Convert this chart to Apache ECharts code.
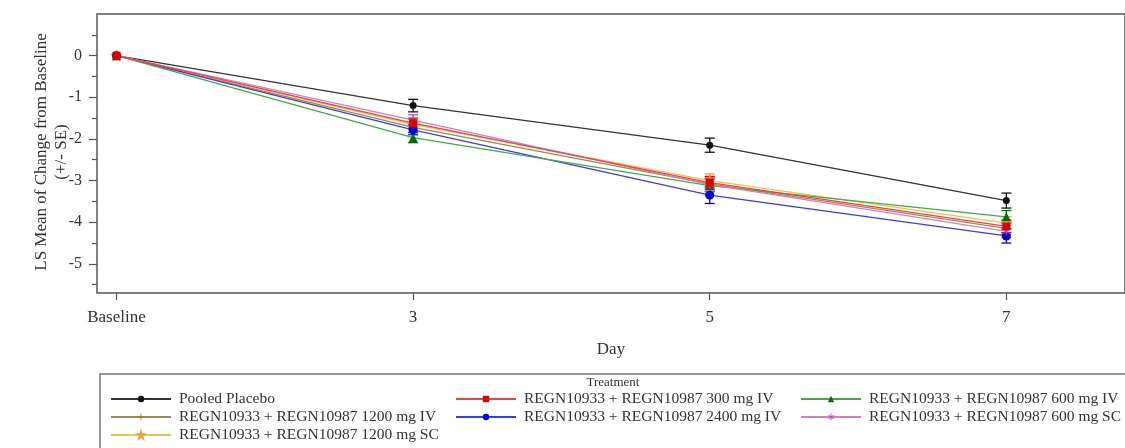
<!DOCTYPE html>
<html>
<head>
<meta charset="utf-8">
<script src="https://cdn.jsdelivr.net/npm/echarts@6/dist/echarts.min.js"></script>
<style>html,body{margin:0;padding:0;background:#fff;}#c{width:1125px;height:448px;}</style>
</head>
<body>
<div id="c"></div>
<script>
// ---- data ----
const days = ['Baseline', '3', '5', '7'];
const xPos = [0, 1, 2, 3];
const yTickLabels = [0, -1, -2, -3, -4, -5];
const yMinorTicks = [0.5, -0.5, -1.5, -2.5, -3.5, -4.5, -5.5];

const placeboMean = [0, -1.20, -2.15, -3.48];
const placeboSE   = [0, 0.15, 0.17, 0.18];
const iv1200Mean  = [0, -1.72, -3.08, -4.15];
const iv1200SE    = [0, 0.12, 0.14, 0.14];
const sc1200Mean  = [0, -1.65, -3.00, -4.02];
const sc1200SE    = [0, 0.13, 0.16, 0.15];
const iv300Mean   = [0, -1.62, -3.05, -4.10];
const iv300SE     = [0, 0.12, 0.15, 0.15];
const iv2400Mean  = [0, -1.78, -3.35, -4.33];
const iv2400SE    = [0, 0.12, 0.20, 0.17];
const iv600Mean   = [0, -1.97, -3.12, -3.87];
const iv600SE     = [0, 0.12, 0.15, 0.15];
const sc600Mean   = [0, -1.55, -3.10, -4.22];
const sc600SE     = [0, 0.13, 0.15, 0.15];

const names = [
  'Pooled Placebo',
  'REGN10933 + REGN10987 1200 mg IV',
  'REGN10933 + REGN10987 1200 mg SC',
  'REGN10933 + REGN10987 300 mg IV',
  'REGN10933 + REGN10987 2400 mg IV',
  'REGN10933 + REGN10987 600 mg IV',
  'REGN10933 + REGN10987 600 mg SC'
];

// ---- styles ----
const FONT = "'Liberation Serif', 'Times New Roman', serif";
const STAR = 'path://M50,0 L61,35 L98,35 L68,57 L79,91 L50,70 L21,91 L32,57 L2,35 L39,35 Z';
const PLUS = 'path://M4.3,0H5.7V4.3H10V5.7H5.7V10H4.3V5.7H0V4.3H4.3Z';
const ASTER = 'path://M4.4,0H5.6V3.6L8.7,1.8L9.3,2.8L6.2,4.6V5.4L9.3,7.2L8.7,8.2L5.6,6.4V10H4.4V6.4L1.3,8.2L0.7,7.2L3.8,5.4V4.6L0.7,2.8L1.3,1.8L4.4,3.6Z';

const groups = [
  {name: names[0], mean: placeboMean, se: placeboSE, line: '#333333', mark: '#111111', symbol: 'circle', size: 7},
  {name: names[1], mean: iv1200Mean,  se: iv1200SE,  line: '#9a8a55', mark: '#a07a30', symbol: PLUS, size: 9},
  {name: names[2], mean: sc1200Mean,  se: sc1200SE,  line: '#f2c04a', mark: '#f0a030', symbol: STAR, size: 9, hollow: true},
  {name: names[4], mean: iv2400Mean,  se: iv2400SE,  line: '#3a3af0', mark: '#0000e0', symbol: 'circle', size: 9},
  {name: names[5], mean: iv600Mean,   se: iv600SE,   line: '#44aa44', mark: '#0a6a0a', symbol: 'triangle', size: 9},
  {name: names[6], mean: sc600Mean,   se: sc600SE,   line: '#cc80cc', mark: '#b050b0', symbol: ASTER, size: 8},
  {name: names[3], mean: iv300Mean,   se: iv300SE,   line: '#f04040', mark: '#e00000', symbol: 'rect', size: 8}
];

const series = [];
groups.forEach(g => {
  series.push({
    type: 'custom',
    name: g.name + ' SE',
    silent: true,
    z: 2,
    renderItem: function (params, api) {
      const x = api.value(0), lo = api.value(1), hi = api.value(2);
      const p1 = api.coord([x, lo]), p2 = api.coord([x, hi]);
      const w = 5;
      const st = {stroke: g.mark, lineWidth: 1.3};
      return {type: 'group', children: [
        {type: 'line', shape: {x1: p1[0], y1: p1[1], x2: p2[0], y2: p2[1]}, style: st},
        {type: 'line', shape: {x1: p1[0] - w, y1: p1[1], x2: p1[0] + w, y2: p1[1]}, style: st},
        {type: 'line', shape: {x1: p2[0] - w, y1: p2[1], x2: p2[0] + w, y2: p2[1]}, style: st}
      ]};
    },
    data: xPos.filter((x, i) => g.se[i] > 0).map(x => [x, g.mean[x] - g.se[x], g.mean[x] + g.se[x]])
  });
  series.push({
    type: 'line',
    name: g.name,
    z: 3,
    symbol: g.symbol,
    symbolSize: g.size,
    showAllSymbol: true,
    lineStyle: {color: g.line, width: 1.3},
    itemStyle: g.hollow ? {color: '#ffffff', borderColor: g.mark, borderWidth: 1.3} : {color: g.mark, borderColor: g.mark, borderWidth: 0},
    emphasis: {disabled: true},
    data: xPos.map((x, i) => [x, g.mean[i]])
  });
});

const legendBase = {
  orient: 'vertical',
  itemWidth: 60,
  itemHeight: 8,
  itemGap: 2,
  padding: 0,
  selectedMode: false,
  textStyle: {fontFamily: FONT, fontSize: 15.5, color: '#333', lineHeight: 15, padding: [0, 0, 0, 3]},
  top: 391
};

const chart = echarts.init(document.getElementById('c'), null, {renderer: 'canvas'});
chart.setOption({
  animation: false,
  backgroundColor: '#ffffff',
  grid: {left: 97, top: 14, height: 279, width: 1055, show: true, borderColor: '#555', borderWidth: 1.5, backgroundColor: 'transparent'},
  xAxis: {
    type: 'value',
    min: -0.0657,
    max: 3.4,
    name: 'Day',
    nameLocation: 'middle',
    nameGap: 48,
    nameTextStyle: {fontFamily: FONT, fontSize: 17, color: '#333'},
    axisLine: {show: false, onZero: false},
    splitLine: {show: false},
    axisTick: {show: true, customValues: xPos, length: 7, lineStyle: {color: '#555', width: 1.2}},
    axisLabel: {
      customValues: xPos,
      margin: 16,
      fontFamily: FONT, fontSize: 17, color: '#333',
      formatter: v => days[Math.round(v)]
    }
  },
  yAxis: [{
    type: 'value',
    min: -5.7,
    max: 1.0,
    axisLine: {show: false, onZero: false},
    splitLine: {show: false},
    axisTick: {show: true, customValues: yTickLabels, length: 8, lineStyle: {color: '#555', width: 1.2}},
    axisLabel: {customValues: yTickLabels, margin: 15, fontFamily: FONT, fontSize: 16, color: '#333'}
  }, {
    type: 'value',
    position: 'left',
    min: -5.7,
    max: 1.0,
    axisLine: {show: false, onZero: false},
    splitLine: {show: false},
    axisTick: {show: true, customValues: yMinorTicks, length: 5, lineStyle: {color: '#555', width: 1.2}},
    axisLabel: {show: false}
  }],
  legend: [
    Object.assign({}, legendBase, {left: 110, data: [names[0], names[1], names[2]]}),
    Object.assign({}, legendBase, {left: 455, data: [names[3], names[4]]}),
    Object.assign({}, legendBase, {left: 800, data: [names[5], names[6]]})
  ],
  graphic: [
    {type: 'text', x: 52, y: 152, rotation: Math.PI / 2, z: 10,
     style: {text: 'LS Mean of Change from Baseline\n(+/- SE)', font: '17px ' + FONT, fill: '#333', align: 'center', verticalAlign: 'middle', lineHeight: 20}},
    {type: 'rect', z: 0, shape: {x: 100, y: 374, width: 1040, height: 100}, style: {fill: 'none', stroke: '#777', lineWidth: 1.5}},
    {type: 'text', x: 613, y: 383, z: 10, style: {text: 'Treatment', font: '13px ' + FONT, fill: '#333', align: 'center', verticalAlign: 'middle'}}
  ],
  series: series
});
</script>
</body>
</html>
